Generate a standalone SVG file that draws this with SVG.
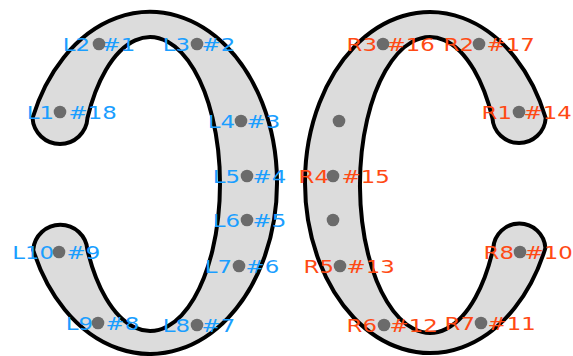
<svg xmlns="http://www.w3.org/2000/svg" width="573" height="356" viewBox="0 0 573 356">
<style>
.shape{fill:#dcdcdc;stroke:#000;stroke-width:4;stroke-linejoin:round}
.dot{fill:#6b6b6b}
text{font-family:"DejaVu Sans","Liberation Sans",sans-serif;font-size:18px}
.b{fill:#1a9eff}
.r{fill:#ff4a14}
.e{text-anchor:end}
</style>
<rect width="573" height="356" fill="#fff"/>
<g id="shapes">
<path id="left-shape" class="shape" d="M32.54,118 A27.5,27.5 0 0 0 87.45,118 A70,147 0 1 1 87.45,250 A27.2,27.2 0 0 0 33.2,250 A127,171 0 1 0 32.54,118 Z"/>
<path id="right-shape" class="shape" d="M545.7,118 A26.7,26.7 0 0 1 492.4,118 A70,148 0 1 0 493.3,248 A26.1,26.1 0 0 1 545.4,248 A125,170.5 0 1 1 545.7,118 Z"/>
</g>
<g id="connectors"></g>
<g id="left-nodes">
<g id="L1"><text class="b e" transform="translate(54,118.7) scale(1.27,1)">L1</text><text class="b" transform="translate(68.5,118.7) scale(1.27,1)">#18</text><circle class="dot" cx="60" cy="112" r="6.3"/></g>
<g id="L2"><text class="b e" transform="translate(90,50.7) scale(1.27,1)">L2</text><text class="b" transform="translate(101.5,50.7) scale(1.27,1)">#1</text><circle class="dot" cx="99" cy="44" r="6.3"/></g>
<g id="L3"><text class="b e" transform="translate(190,50.7) scale(1.27,1)">L3</text><text class="b" transform="translate(201.5,50.7) scale(1.27,1)">#2</text><circle class="dot" cx="197" cy="44" r="6.3"/></g>
<g id="L4"><text class="b e" transform="translate(235,127.7) scale(1.27,1)">L4</text><text class="b" transform="translate(246.5,127.7) scale(1.27,1)">#3</text><circle class="dot" cx="241" cy="121" r="6.3"/></g>
<g id="L5"><text class="b e" transform="translate(240,182.7) scale(1.27,1)">L5</text><text class="b" transform="translate(252.5,182.7) scale(1.27,1)">#4</text><circle class="dot" cx="247" cy="176" r="6.3"/></g>
<g id="L6"><text class="b e" transform="translate(240,226.7) scale(1.27,1)">L6</text><text class="b" transform="translate(252.5,226.7) scale(1.27,1)">#5</text><circle class="dot" cx="247" cy="220" r="6.3"/></g>
<g id="L7"><text class="b e" transform="translate(232,272.7) scale(1.27,1)">L7</text><text class="b" transform="translate(245.5,272.7) scale(1.27,1)">#6</text><circle class="dot" cx="239" cy="266" r="6.3"/></g>
<g id="L8"><text class="b e" transform="translate(190,331.7) scale(1.27,1)">L8</text><text class="b" transform="translate(201.5,331.7) scale(1.27,1)">#7</text><circle class="dot" cx="197" cy="325" r="6.3"/></g>
<g id="L9"><text class="b e" transform="translate(93,329.7) scale(1.27,1)">L9</text><text class="b" transform="translate(105.5,329.7) scale(1.27,1)">#8</text><circle class="dot" cx="98" cy="323" r="6.3"/></g>
<g id="L10"><text class="b e" transform="translate(54,258.7) scale(1.27,1)">L10</text><text class="b" transform="translate(66.5,258.7) scale(1.27,1)">#9</text><circle class="dot" cx="59" cy="252" r="6.3"/></g>
</g>
<g id="right-nodes">
<g id="R1"><text class="r e" transform="translate(512,118.7) scale(1.27,1)">R1</text><text class="r" transform="translate(523.5,118.7) scale(1.27,1)">#14</text><circle class="dot" cx="519" cy="112" r="6.3"/></g>
<g id="R2"><text class="r e" transform="translate(474,50.7) scale(1.27,1)">R2</text><text class="r" transform="translate(486.5,50.7) scale(1.27,1)">#17</text><circle class="dot" cx="479" cy="44" r="6.3"/></g>
<g id="R3"><text class="r e" transform="translate(377,50.7) scale(1.27,1)">R3</text><text class="r" transform="translate(386.5,50.7) scale(1.27,1)">#16</text><circle class="dot" cx="383" cy="44" r="6.3"/></g>
<g id="P1"><circle class="dot" cx="339" cy="121" r="6.3"/></g>
<g id="R4"><text class="r e" transform="translate(329,182.7) scale(1.27,1)">R4</text><text class="r" transform="translate(341.5,182.7) scale(1.27,1)">#15</text><circle class="dot" cx="333" cy="176" r="6.3"/></g>
<g id="P2"><circle class="dot" cx="333" cy="220" r="6.3"/></g>
<g id="R5"><text class="r e" transform="translate(334,272.7) scale(1.27,1)">R5</text><text class="r" transform="translate(346.5,272.7) scale(1.27,1)">#13</text><circle class="dot" cx="340" cy="266" r="6.3"/></g>
<g id="R6"><text class="r e" transform="translate(377,331.7) scale(1.27,1)">R6</text><text class="r" transform="translate(389.5,331.7) scale(1.27,1)">#12</text><circle class="dot" cx="384" cy="325" r="6.3"/></g>
<g id="R7"><text class="r e" transform="translate(475,329.7) scale(1.27,1)">R7</text><text class="r" transform="translate(487.5,329.7) scale(1.27,1)">#11</text><circle class="dot" cx="481" cy="323" r="6.3"/></g>
<g id="R8"><text class="r e" transform="translate(514,258.7) scale(1.27,1)">R8</text><text class="r" transform="translate(524.5,258.7) scale(1.27,1)">#10</text><circle class="dot" cx="520" cy="252" r="6.3"/></g>
</g>
</svg>
